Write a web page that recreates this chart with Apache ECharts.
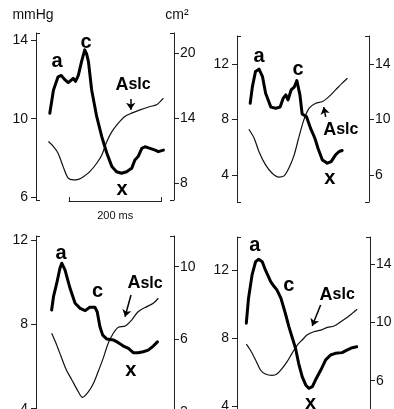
<!DOCTYPE html>
<html><head><meta charset="utf-8">
<script src="https://cdn.jsdelivr.net/npm/echarts@6/dist/echarts.min.js"></script>
<style>html,body{margin:0;padding:0;background:#fff}#c{width:394px;height:409px}</style>
</head><body><div id="c"></div><script>
// ---------- data (time in ms, pressure in mmHg, area in cm2) ----------
const p1PressTime = [30,38,48,55,62,70,76,81,86,92,99,106,110,114,121,132,143,154,165,175,186,197,208,215,222,230,237,248,259,266,277];
const p1Press     = [10.27,11.46,12.13,12.2,12.0,11.83,11.95,12.05,11.9,12.2,12.9,13.5,13.3,12.9,11.46,10.1,9.08,8.24,7.56,7.3,7.22,7.3,7.47,7.9,8.07,8.49,8.57,8.49,8.4,8.32,8.4];
const p1AreaTime  = [27,38,48,59,70,81,92,103,117,132,143,154,165,179,193,208,226,248,262,277];
const p1Area      = [11.84,11.38,10.77,9.53,8.46,8.3,8.35,8.6,9.07,9.84,10.6,11.84,12.76,13.54,14.15,14.46,14.76,15.07,15.23,15.85];

const p2PressTime = [30,35,42,50,58,65,77,88,98,105,111,116,123,130,136,143,148,158,167,177,184,194,205,214,224,232,239];
const p2Press     = [9.18,10.38,11.47,11.64,11.1,9.9,8.9,8.82,8.9,9.54,9.78,9.42,10.14,10.34,10.82,9.78,8.41,8.2,7.38,6.65,5.93,5.08,4.85,4.96,5.45,5.69,5.76];
const p2AreaTime  = [27,39,50,65,80,95,107,118,130,141,152,164,179,194,209,224,239,251];
const p2Area      = [9.3,8.65,7.68,6.72,6.12,5.84,5.93,6.49,7.45,8.77,9.98,10.82,11.18,11.3,11.66,12.14,12.63,12.99];

const p3PressTime = [34,38,45,52,56,63,74,85,96,107,117,128,133,139,145,154,168,179,190,201,212,222,233,244,255,264];
const p3Press     = [8.68,9.31,9.94,10.66,10.9,10.58,9.71,9.0,8.76,8.65,8.81,8.81,8.6,7.89,7.49,7.3,7.26,7.13,6.97,6.86,6.65,6.65,6.7,6.78,6.97,7.17];
const p3AreaTime  = [34,45,56,66,78,92,101,114,125,135,146,157,168,179,194,208,222,241,255,266];
const p3Area      = [6.33,5.69,4.95,4.31,3.76,3.11,2.8,3.11,3.58,4.21,4.95,5.78,6.33,6.66,6.73,7.06,7.52,7.8,7.98,8.26];

const p4PressTime = [21,26,34,42,49,57,64,76,83,90,99,109,117,124,132,139,147,155,162,170,177,189,200,211,222,237,249,260,270];
const p4Press     = [8.89,10.37,11.75,12.53,12.67,12.53,12.04,11.35,11.09,10.86,10.37,9.48,8.69,8.09,7.41,6.52,5.73,5.24,5.04,5.14,5.53,6.12,6.72,7.01,7.11,7.15,7.31,7.44,7.5];
const p4AreaTime  = [21,30,42,53,64,79,90,102,113,124,136,147,158,173,189,204,219,234,249,260,271];
const p4Area      = [8.52,8.11,7.42,6.74,6.46,6.37,6.46,6.85,7.31,7.88,8.45,8.8,9.14,9.37,9.48,9.67,9.76,10.05,10.36,10.63,10.91];

// tick labels
const p1LeftTicks = [6,10,14],  p1RightTicks = [8,14,20];
const p2LeftTicks = [4,8,12],   p2RightTicks = [6,10,14];
const p3LeftTicks = [4,8,12],   p3RightTicks = [2,6,10];
const p4LeftTicks = [4,8,12],   p4RightTicks = [6,10,14];

// annotations [text, time, pressure]
const p1Notes = [['a',45.7,12.93],['c',108.7,13.9],['x',187,6.42],['Aslc',210.9,11.71]];
const p2Notes = [['a',50,12.55],['c',138.7,11.64],['x',211,3.76],['Aslc',236,7.25]];
const p3Notes = [['a',54.3,11.37],['c',134,9.58],['x',205.9,5.8],['Aslc',237,9.95]];
const p4Notes = [['a',40,13.46],['c',117,11.15],['x',166,4.15],['Aslc',226,10.56]];
// arrows [t1, p1, t2, p2]
const p1Arrow = [205.9,11.0,205.9,10.45];
const p2Arrow = [201.6,8.19,197,8.9];
const p3Arrow = [206.5,9.39,193.5,8.36];
const p4Arrow = [188.6,9.97,169.6,8.73];

// ---------- layout ----------
const panels = [
  {grid:{left:36, top:33, width:138, height:167}, L:[5.86,14.36], R:[6.45,21.85],
   pt:p1PressTime, pv:p1Press, at:p1AreaTime, av:p1Area, lt:p1LeftTicks, rt:p1RightTicks, notes:p1Notes, arrow:p1Arrow, names:['mmHg','cm²']},
  {grid:{left:237, top:36, width:132, height:166}, L:[2.04,14.04], R:[4.04,16.04],
   pt:p2PressTime, pv:p2Press, at:p2AreaTime, av:p2Area, lt:p2LeftTicks, rt:p2RightTicks, notes:p2Notes, arrow:p2Arrow},
  {grid:{left:36, top:236, width:138, height:214}, L:[2.04,12.19], R:[-0.1,11.69],
   pt:p3PressTime, pv:p3Press, at:p3AreaTime, av:p3Area, lt:p3LeftTicks, rt:p3RightTicks, notes:p3Notes, arrow:p3Arrow},
  {grid:{left:237, top:237, width:133, height:213}, L:[1.39,13.99], R:[1.24,15.88],
   pt:p4PressTime, pv:p4Press, at:p4AreaTime, av:p4Area, lt:p4LeftTicks, rt:p4RightTicks, notes:p4Notes, arrow:p4Arrow}
];

const FONT = '"Liberation Sans", Arial, sans-serif';
const AX = '#222';
const grids = [], xAxes = [], yAxes = [], series = [];
const zip = (t, v) => t.map((x, k) => [x, v[k]]);

panels.forEach((p, i) => {
  grids.push(Object.assign({containLabel:false, outerBoundsMode:'none'}, p.grid));
  xAxes.push({type:'value', gridIndex:i, min:0, max:300, show:false});
  const main = (pos, range, ticks, name) => ({
    type:'value', gridIndex:i, position:pos, min:range[0], max:range[1],
    splitLine:{show:false},
    axisLine:{show:true, onZero:false, lineStyle:{color:AX, width:1}},
    axisTick:{show:true, length:5, customValues:ticks, lineStyle:{color:AX, width:1}},
    axisLabel:{show:true, customValues:ticks, margin: pos === 'left' ? 8 : 6, color:'#111', fontSize:14, fontFamily:FONT},
    name: name || '', nameLocation:'end', nameGap:11,
    nameTextStyle:{color:'#111', fontSize:14, fontFamily:FONT, padding: pos === 'left' ? [0,6,0,0] : [0,0,0,6]}
  });
  const bracket = (pos, range) => ({
    type:'value', gridIndex:i, position:pos, min:range[0], max:range[1],
    splitLine:{show:false}, axisLine:{show:false},
    axisTick:{show:true, inside:true, length:4, customValues:range, lineStyle:{color:AX, width:1}},
    axisLabel:{show:false}
  });
  const names = p.names || [];
  yAxes.push(main('left', p.L, p.lt, names[0]));
  yAxes.push(main('right', p.R, p.rt, names[1]));
  yAxes.push(bracket('left', p.L));
  yAxes.push(bracket('right', p.R));

  series.push({
    type:'line', xAxisIndex:i, yAxisIndex:4*i, data:zip(p.pt, p.pv), showSymbol:false, silent:true,
    lineStyle:{width:3, color:'#000', cap:'round', join:'round'}, z:3,
    markPoint:{
      silent:true, symbol:'circle', symbolSize:1, itemStyle:{color:'rgba(0,0,0,0)'},
      label:{show:true, position:'inside', color:'#000', fontWeight:'bold', fontSize:20, fontFamily:FONT,
        formatter: q => q.name === 'Aslc' ? '{A|A}{s|slc}' : q.name,
        rich:{A:{fontSize:18, fontWeight:'bold', fontFamily:FONT, color:'#000'},
              s:{fontSize:16, fontWeight:'bold', fontFamily:FONT, color:'#000'}}},
      data:p.notes.map(n => ({name:n[0], coord:[n[1], n[2]]}))
    },
    markLine:{
      silent:true, symbol:['none','arrow'], symbolSize:7, label:{show:false},
      lineStyle:{color:'#000', width:1.5, type:'solid'},
      data:[[{coord:[p.arrow[0], p.arrow[1]]}, {coord:[p.arrow[2], p.arrow[3]]}]]
    }
  });
  series.push({
    type:'line', xAxisIndex:i, yAxisIndex:4*i+1, data:zip(p.at, p.av), showSymbol:false, silent:true,
    smooth:0.3, lineStyle:{width:1.2, color:'#111'}, z:2
  });
});

// 200 ms scale bar
grids.push({left:69, top:200, width:92.5, height:1, containLabel:false, outerBoundsMode:'none'});
xAxes.push({type:'value', gridIndex:4, min:0, max:200, position:'bottom',
  axisLine:{show:true, onZero:false, lineStyle:{color:AX, width:1}},
  axisTick:{show:true, inside:true, length:4, customValues:[0,200], lineStyle:{color:AX}},
  axisLabel:{show:false}, splitLine:{show:false},
  name:'200 ms', nameLocation:'middle', nameGap:9,
  nameTextStyle:{fontSize:11, color:'#111', fontFamily:FONT}});
yAxes.push({type:'value', gridIndex:4, show:false, min:0, max:1});

const chart = echarts.init(document.getElementById('c'), null, {renderer:'canvas'});
chart.setOption({
  animation:false, backgroundColor:'#fff',
  grid:grids, xAxis:xAxes, yAxis:yAxes, series:series
});
</script></body></html>
